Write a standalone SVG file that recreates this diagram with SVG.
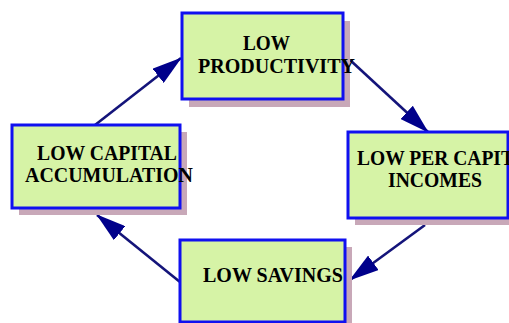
<svg xmlns="http://www.w3.org/2000/svg" width="509" height="323" viewBox="0 0 509 323">
<style>
.shadow{fill:#c8a8b8;}
.box{fill:#d6f3a6;stroke:#1010f0;stroke-width:3;}
.lbl{font-family:"Liberation Serif","Times New Roman",serif;font-weight:bold;font-size:22px;fill:#000;}
.conn{stroke:#14147a;stroke-width:2.6;fill:none;marker-end:url(#ah);}
</style>
<defs>
<marker id="ah" viewBox="0 0 30 18" refX="29" refY="9" markerWidth="30" markerHeight="18" markerUnits="userSpaceOnUse" orient="auto">
<path d="M0,0 L30,9 L0,18 z" fill="#00008b"/>
</marker>
</defs>
<rect width="509" height="323" fill="#fff"/>
<g id="connectors">
<line class="conn" x1="95" y1="125" x2="181" y2="58"/>
<line class="conn" x1="350" y1="60" x2="428" y2="132"/>
<line class="conn" x1="425" y1="225" x2="350" y2="280"/>
<line class="conn" x1="180" y1="282" x2="97" y2="215"/>
</g>
<g id="low-productivity">
<rect class="shadow" x="189" y="21" width="161" height="86"/>
<rect class="box" x="182" y="13" width="161" height="86"/>
<text class="lbl" x="243" y="50" textLength="47" lengthAdjust="spacingAndGlyphs">LOW</text>
<text class="lbl" x="198" y="73" textLength="157" lengthAdjust="spacingAndGlyphs">PRODUCTIVITY</text>
</g>
<g id="low-capital-accumulation">
<rect class="shadow" x="19" y="132" width="168" height="83"/>
<rect class="box" x="12" y="125" width="168" height="83"/>
<text class="lbl" x="37" y="160" textLength="140" lengthAdjust="spacingAndGlyphs">LOW CAPITAL</text>
<text class="lbl" x="25" y="182" textLength="168" lengthAdjust="spacingAndGlyphs">ACCUMULATION</text>
</g>
<g id="low-per-capita-incomes">
<rect class="shadow" x="355" y="139" width="160" height="86"/>
<rect class="box" x="348" y="132" width="160" height="86"/>
<text class="lbl" x="357" y="165" textLength="157" lengthAdjust="spacingAndGlyphs">LOW PER CAPIT</text>
<text class="lbl" x="388" y="187" textLength="94" lengthAdjust="spacingAndGlyphs">INCOMES</text>
</g>
<g id="low-savings">
<rect class="shadow" x="187" y="247" width="165" height="82"/>
<rect class="box" x="180" y="240" width="165" height="82"/>
<text class="lbl" x="203" y="282" textLength="140" lengthAdjust="spacingAndGlyphs">LOW SAVINGS</text>
</g>
</svg>
